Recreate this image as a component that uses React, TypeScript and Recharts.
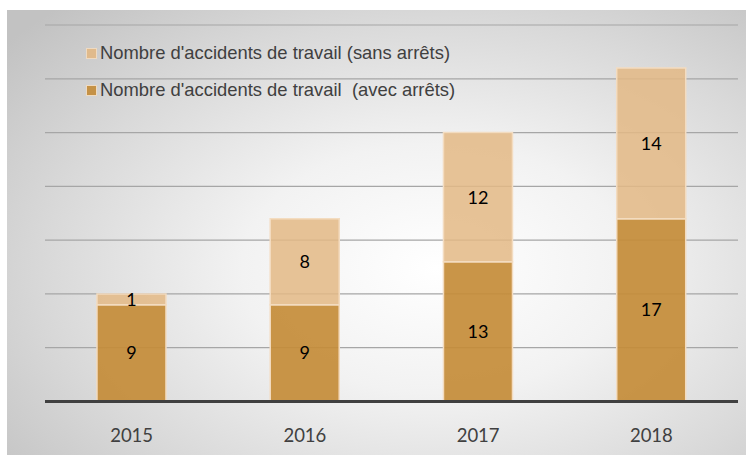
import { BarChart, Bar, XAxis, YAxis, CartesianGrid, LabelList } from 'recharts'

const years = ['2015', '2016', '2017', '2018']
const avecArrets = [9, 9, 13, 17]
const sansArrets = [1, 8, 12, 14]
const yTicks = [0, 5, 10, 15, 20, 25, 30, 35]

const seriesAvec = "Nombre d'accidents de travail  (avec arrêts)"
const seriesSans = "Nombre d'accidents de travail (sans arrêts)"

const DARK = '#C48C38'
const LIGHT = '#E3B985'
const FONT = 'Lato, "Open Sans", sans-serif'

const data = years.map((y, i) => ({
  year: y,
  avec: avecArrets[i],
  sans: sansArrets[i],
}))

function LegendBox() {
  const items = [
    { name: seriesSans, color: LIGHT, top: 42 },
    { name: seriesAvec, color: DARK, top: 79 },
  ]
  return (
    <>
      {items.map(it => (
        <div
          key={it.name}
          style={{
            position: 'absolute',
            left: 86,
            top: it.top,
            height: 22,
            display: 'flex',
            alignItems: 'center',
            fontFamily: '"Liberation Sans", Arial, sans-serif',
            fontSize: 18.4,
            color: '#404040',
            whiteSpace: 'pre',
            lineHeight: '22px',
          }}
        >
          <span
            style={{
              width: 9,
              height: 9,
              background: it.color,
              opacity: 0.9,
              border: '0.5px solid #f3dcc0',
              marginRight: 3,
              display: 'inline-block',
            }}
          />
          {it.name}
        </div>
      ))}
    </>
  )
}

export default function App() {
  return (
    <div style={{ position: 'absolute', left: 0, top: 0, width: 756, height: 457, background: '#fff', overflow: 'hidden' }}>
      <div
        style={{
          position: 'absolute',
          left: 7,
          top: 10,
          width: 739,
          height: 445,
          background: 'radial-gradient(ellipse 75% 80% at 58% 58%, #ffffff 0%, #f2f2f2 35%, #d9d9d9 70%, #c2c2c2 100%)',
        }}
      />
      <div style={{ position: 'absolute', left: 0, top: 0 }}>
        <BarChart
          width={756}
          height={457}
          data={data}
          margin={{ top: 25, right: 18, left: 45, bottom: 25 }}
          barCategoryGap="30%"
        >
          <CartesianGrid vertical={false} stroke="#a6a6a6" strokeWidth={1.2} />
          <YAxis hide domain={[0, 35]} ticks={yTicks} />
          <XAxis
            dataKey="year"
            height={30.5}
            axisLine={{ stroke: '#404040', strokeWidth: 3 }}
            tickLine={false}
            tickMargin={21}
            tick={{ fill: '#404040', fontSize: 18.5, fontFamily: FONT }}
          />
          <Bar dataKey="avec" stackId="a" fill={DARK} fillOpacity={0.92} stroke="#f3dcc0" strokeWidth={1.5} isAnimationActive={false}>
            <LabelList dataKey="avec" position="center" fill="#000" fontSize={18} fontFamily={FONT} />
          </Bar>
          <Bar dataKey="sans" stackId="a" fill={LIGHT} fillOpacity={0.85} stroke="#f3dcc0" strokeWidth={1.5} isAnimationActive={false}>
            <LabelList dataKey="sans" position="center" fill="#000" fontSize={18} fontFamily={FONT} />
          </Bar>
        </BarChart>
      </div>
      <LegendBox />
    </div>
  )
}
